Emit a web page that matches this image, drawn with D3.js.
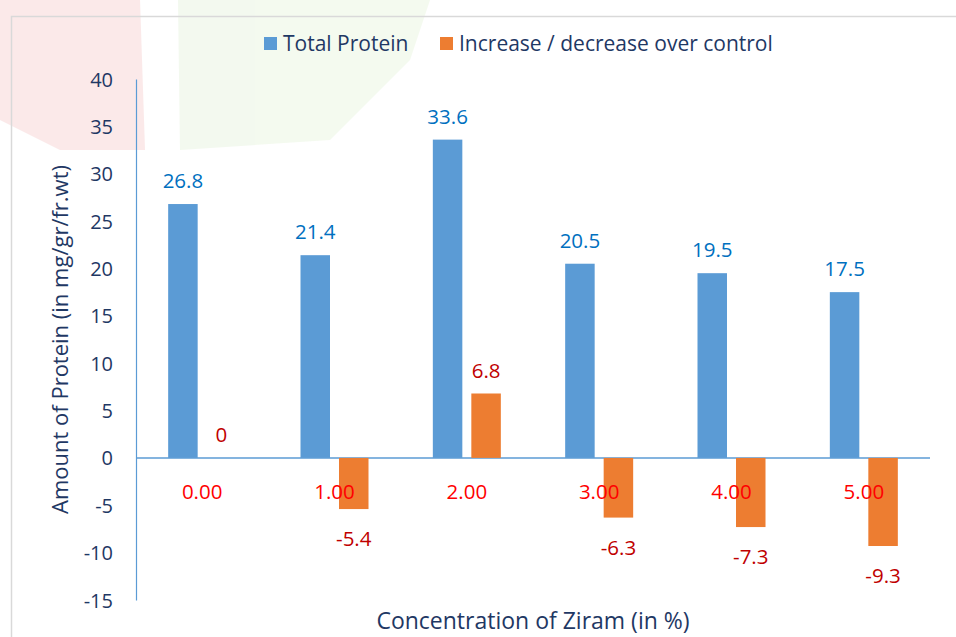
<!DOCTYPE html>
<html>
<head>
<meta charset="utf-8">
<script src="https://cdn.jsdelivr.net/npm/d3@7"></script>
<style>
  body { margin: 0; background: #fff; }
  text { font-family: "Open Sans", "Noto Sans", sans-serif; }
</style>
</head>
<body>
<div id="chart"></div>
<script>
const categories = ["0.00", "1.00", "2.00", "3.00", "4.00", "5.00"];
const totalProtein = [26.8, 21.4, 33.6, 20.5, 19.5, 17.5];
const changeOverControl = [0, -5.4, 6.8, -6.3, -7.3, -9.3];
const seriesNames = ["Total Protein", "Increase / decrease over control"];
const yTicks = [-15, -10, -5, 0, 5, 10, 15, 20, 25, 30, 35, 40];

const margin = ({top: 79, right: 26, bottom: 37, left: 136});
const width = 956 - margin.left - margin.right, height = 637 - margin.top - margin.bottom;

const root = d3.select("#chart")
  .append("svg")
  .attr("width", 956)
  .attr("height", 637);

// faint watermark behind the chart
const wm = root.append("g").attr("opacity", 0.4);
wm.append("path")
  .attr("d", "M0,0 L140,0 L145,150 L60,150 L0,120 Z")
  .attr("fill", "#f6c9c9");
wm.append("path")
  .attr("d", "M178,0 L430,0 L410,60 L330,140 L180,150 Z")
  .attr("fill", "#e3f2d8");

// chart frame
root.append("path")
  .attr("d", "M11.5,637 L11.5,16.5 L956,16.5")
  .attr("fill", "none")
  .attr("stroke", "#d9d9d9")
  .attr("stroke-width", 1.5);

const svg = root.append("g")
  .attr("transform", `translate(${margin.left}, ${margin.top})`);

const xScale = d3.scaleBand()
  .domain(categories)
  .range([0, width]);

const yScale = d3.scaleLinear()
  .domain([-15, 40])
  .range([height, 0]);

const barW = 29.5, gap = 9;

// y axis (labels only, blue line)
const yAxis = d3.axisLeft(yScale).tickValues(yTicks).tickFormat(d => String(d)).tickSize(0).tickPadding(23);
svg.append("g")
  .attr("class", "y-axis")
  .call(yAxis)
  .call(g => g.select(".domain").attr("stroke", "#5b9bd5").attr("stroke-width", 1.2))
  .call(g => g.selectAll("text")
    .attr("fill", "#1f3864")
    .attr("font-size", 20)
    .attr("dy", "0.35em"));

// zero line
svg.append("line")
  .attr("x1", 0).attr("x2", width)
  .attr("y1", yScale(0)).attr("y2", yScale(0))
  .attr("stroke", "#5b9bd5")
  .attr("stroke-width", 1.5);

// bars
svg.selectAll(".bar-total")
  .data(totalProtein)
  .join("rect")
  .attr("class", "bar-total")
  .attr("x", (d, i) => xScale(categories[i]) + xScale.bandwidth() / 2 - gap / 2 - barW)
  .attr("width", barW)
  .attr("y", d => yScale(Math.max(0, d)))
  .attr("height", d => Math.abs(yScale(d) - yScale(0)))
  .attr("fill", "#5b9bd5");

svg.selectAll(".bar-change")
  .data(changeOverControl)
  .join("rect")
  .attr("class", "bar-change")
  .attr("x", (d, i) => xScale(categories[i]) + xScale.bandwidth() / 2 + gap / 2)
  .attr("width", barW)
  .attr("y", d => yScale(Math.max(0, d)))
  .attr("height", d => Math.abs(yScale(d) - yScale(0)))
  .attr("fill", "#ed7d31");

// category labels (drawn below the zero line, over the bars)
svg.selectAll(".cat-label")
  .data(categories)
  .join("text")
  .attr("class", "cat-label")
  .attr("x", d => xScale(d) + xScale.bandwidth() / 2)
  .attr("y", yScale(0) + 34)
  .attr("dy", "0.35em")
  .attr("text-anchor", "middle")
  .attr("font-size", 20.5)
  .attr("fill", "#ff0000")
  .text(d => d);

// data labels
svg.selectAll(".lbl-total")
  .data(totalProtein)
  .join("text")
  .attr("class", "lbl-total")
  .attr("x", (d, i) => xScale(categories[i]) + xScale.bandwidth() / 2 - gap / 2 - barW / 2)
  .attr("y", d => yScale(d) - 23)
  .attr("dy", "0.35em")
  .attr("text-anchor", "middle")
  .attr("font-size", 20.5)
  .attr("fill", "#0070c0")
  .text(d => d);

svg.selectAll(".lbl-change")
  .data(changeOverControl)
  .join("text")
  .attr("class", "lbl-change")
  .attr("x", (d, i) => xScale(categories[i]) + xScale.bandwidth() / 2 + gap / 2 + barW / 2)
  .attr("y", d => d < 0 ? yScale(d) + 30 : yScale(d) - 23)
  .attr("dy", "0.35em")
  .attr("text-anchor", "middle")
  .attr("font-size", 20.5)
  .attr("fill", "#c00000")
  .text(d => d);

// axis titles
root.append("text")
  .attr("transform", `translate(60, ${margin.top + height / 2}) rotate(-90)`)
  .attr("dy", "0.35em")
  .attr("text-anchor", "middle")
  .attr("font-size", 22)
  .attr("fill", "#1f3864")
  .text("Amount of Protein (in mg/gr/fr.wt)");

root.append("text")
  .attr("x", margin.left + width / 2)
  .attr("y", 621)
  .attr("dy", "0.35em")
  .attr("text-anchor", "middle")
  .attr("font-size", 23)
  .attr("fill", "#1f3864")
  .text("Concentration of Ziram (in %)");

// legend
const legendX = [264, 440];
const legend = root.selectAll(".legend")
  .data(seriesNames)
  .join("g")
  .attr("class", "legend")
  .attr("transform", (d, i) => `translate(${legendX[i]}, 37)`);
legend.append("rect")
  .attr("width", 13).attr("height", 13)
  .attr("fill", (d, i) => i === 0 ? "#5b9bd5" : "#ed7d31");
legend.append("text")
  .attr("x", 19).attr("y", 7)
  .attr("dy", "0.35em")
  .attr("font-size", 21)
  .attr("fill", "#1f3864")
  .text(d => d);
</script>
</body>
</html>
